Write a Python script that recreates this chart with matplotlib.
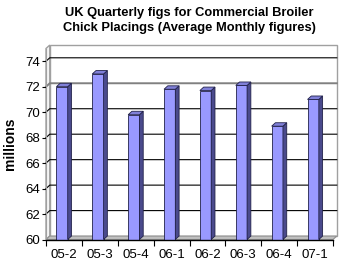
import matplotlib
matplotlib.use('Agg')
import matplotlib.pyplot as plt
from matplotlib.patches import Polygon
from matplotlib.ticker import FixedLocator

plt.rcParams['font.family'] = ['Liberation Sans', 'DejaVu Sans']

categories = ['05-2', '05-3', '05-4', '06-1', '06-2', '06-3', '06-4', '07-1']
values = [72.0, 73.0, 69.8, 71.8, 71.7, 72.1, 68.9, 71.0]
y_ticks = [60, 62, 64, 66, 68, 70, 72, 74]
title = 'UK Quarterly figs for Commercial Broiler\nChick Placings (Average Monthly figures)'
y_label = 'millions'

W, H = 340, 261
fig = plt.figure(figsize=(W / 100, H / 100), dpi=100)

# axes = front plane of the 3D box
left_px, right_px, bottom_px, top_px = 46, 333, 239.5, 48.5
ax = fig.add_axes([left_px / W, 1 - bottom_px / H,
                   (right_px - left_px) / W, (bottom_px - top_px) / H])
ymin, ymax = 60, 75
xmin, xmax = -0.5, len(categories) - 0.5
ax.set_xlim(xmin, xmax)
ax.set_ylim(ymin, ymax)
ax.patch.set_visible(False)

# depth offsets (data units)
dx, dy = 0.105, 0.27

# back wall
ax.add_patch(Polygon([(xmin + dx, ymin + dy), (xmax + dx, ymin + dy),
                      (xmax + dx, ymax + dy), (xmin + dx, ymax + dy)],
                     closed=True, facecolor='white', edgecolor='#a0a0a0',
                     lw=1.0, clip_on=False, zorder=0))
# side wall
ax.add_patch(Polygon([(xmin, ymin), (xmin + dx, ymin + dy),
                      (xmin + dx, ymax + dy), (xmin, ymax)],
                     closed=True, facecolor='#f4f4f4', edgecolor='#a0a0a0',
                     lw=1.0, clip_on=False, zorder=0.5))
# floor
ax.add_patch(Polygon([(xmin, ymin), (xmax, ymin),
                      (xmax + dx, ymin + dy), (xmin + dx, ymin + dy)],
                     closed=True, facecolor='#c0c0c0', edgecolor='#909090',
                     lw=0.8, clip_on=False, zorder=0.6))

# gridlines
for v in y_ticks[1:]:
    col = '#808080' if v == 72 else 'black'
    lw = 1.4 if v == 72 else 0.8
    ax.plot([xmin, xmin + dx, xmax + dx], [v, v + dy, v + dy],
            color=col, lw=lw, clip_on=False, zorder=1)

# bars
bw = 0.315
xs = [i - dx / 2 for i in range(len(categories))]
heights = [v - ymin for v in values]
ax.bar(xs, heights, bottom=ymin, width=bw, color='#9999ff',
       edgecolor='#22224a', lw=0.6, zorder=3)
for x, v in zip(xs, values):
    xr = x + bw / 2
    xl = x - bw / 2
    ax.add_patch(Polygon([(xr, ymin), (xr + dx, ymin + dy), (xr + dx, v + dy), (xr, v)],
                         closed=True, facecolor='#4a4a8c', edgecolor='#22224a',
                         lw=0.6, zorder=3))
    ax.add_patch(Polygon([(xl, v), (xr, v), (xr + dx, v + dy), (xl + dx, v + dy)],
                         closed=True, facecolor='#8080d8', edgecolor='#22224a',
                         lw=0.6, zorder=3))

# axes styling
for s in ['top', 'right']:
    ax.spines[s].set_visible(False)
ax.spines['left'].set_color('#a0a0a0')
ax.spines['bottom'].set_color('black')
ax.spines['bottom'].set_linewidth(1.0)
ax.spines['bottom'].set_zorder(5)

ax.set_yticks(y_ticks)
ax.set_yticklabels([str(t) for t in y_ticks], fontsize=9.5)
ax.tick_params(axis='y', direction='out', length=3, width=0.8, pad=1, colors='black')

ax.set_xticks(range(len(categories)))
ax.set_xticklabels(categories, fontsize=9.5)
ax.xaxis.set_minor_locator(FixedLocator([i - 0.5 for i in range(len(categories) + 1)]))
ax.tick_params(axis='x', which='major', length=0, pad=7)
ax.tick_params(axis='x', which='minor', direction='out', length=4, width=0.8)

fig.text(189 / W, 1 - 20.5 / H, title, ha='center', va='center',
         fontsize=9.3, fontweight='bold', linespacing=1.4)
fig.text(10 / W, 1 - 144 / H, y_label, rotation=90, ha='center', va='center',
         fontsize=10, fontweight='bold')

fig.savefig('out.png', dpi=100)
